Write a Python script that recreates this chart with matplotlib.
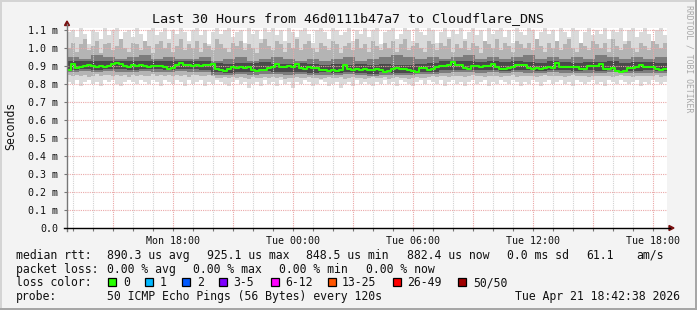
import numpy as np
import pandas as pd
import matplotlib
matplotlib.use("Agg")
import matplotlib.pyplot as plt
import matplotlib.dates as mdates
from matplotlib.patches import Rectangle, Polygon
from matplotlib.lines import Line2D
from matplotlib.ticker import FuncFormatter

# ---------------- data (values in milliseconds) ----------------
title = "Last 30 Hours from 46d0111b47a7 to Cloudflare_DNS"
start_time = "2026-04-20 12:42:38"
end_time = "2026-04-21 18:42:38"

median_rtt = [
    0.880, 0.912, 0.890, 0.893, 0.898, 0.905, 0.902, 0.896, 0.900, 0.894,
    0.899, 0.910, 0.916, 0.912, 0.900, 0.896, 0.903, 0.898, 0.904, 0.900,
    0.897, 0.902, 0.899, 0.901, 0.893, 0.886, 0.889, 0.908, 0.916, 0.905,
    0.903, 0.900, 0.905, 0.901, 0.904, 0.906, 0.912, 0.882, 0.876, 0.870,
    0.882, 0.892, 0.889, 0.895, 0.891, 0.893, 0.878, 0.872, 0.876, 0.880,
    0.890, 0.893, 0.910, 0.897, 0.893, 0.899, 0.896, 0.912, 0.890, 0.886,
    0.893, 0.889, 0.891, 0.880, 0.878, 0.874, 0.877, 0.873, 0.876, 0.904,
    0.882, 0.879, 0.882, 0.878, 0.881, 0.877, 0.880, 0.883, 0.876, 0.864,
    0.872, 0.885, 0.887, 0.883, 0.886, 0.876, 0.874, 0.866, 0.888, 0.891,
    0.880, 0.882, 0.896, 0.899, 0.902, 0.908, 0.921, 0.906, 0.903, 0.887,
    0.885, 0.898, 0.901, 0.897, 0.902, 0.899, 0.910, 0.893, 0.886, 0.884,
    0.888, 0.896, 0.906, 0.903, 0.907, 0.889, 0.885, 0.887, 0.883, 0.889,
    0.892, 0.888, 0.917, 0.896, 0.893, 0.897, 0.894, 0.896, 0.885, 0.886,
    0.898, 0.901, 0.899, 0.910, 0.886, 0.884, 0.887, 0.872, 0.869, 0.874,
    0.889, 0.891, 0.893, 0.905, 0.896, 0.894, 0.897, 0.882, 0.879, 0.884,
]

smoke_max = [
    1.09, 1.10, 1.06, 1.11, 1.08, 1.02, 1.10, 1.09, 1.05, 1.11,
    1.07, 1.10, 1.11, 1.04, 1.09, 1.10, 1.06, 1.11, 1.08, 1.03,
    1.10, 1.11, 1.07, 1.09, 1.11, 1.05, 1.10, 1.08, 1.11, 1.09,
    1.04, 1.10, 1.11, 1.07, 1.10, 1.02, 1.09, 1.11, 1.08, 1.10,
    1.11, 1.06, 1.09, 1.10, 1.03, 1.11, 1.08, 1.10, 1.05, 1.11,
    1.09, 1.11, 1.07, 1.10, 1.04, 1.11, 1.09, 1.06, 1.10, 1.11,
    1.08, 1.03, 1.10, 1.11, 1.09, 1.05, 1.11, 1.10, 1.07, 1.09,
    1.11, 1.04, 1.10, 1.08, 1.11, 1.06, 1.10, 1.11, 1.02, 1.09,
    1.10, 1.11, 1.05, 1.08, 1.11, 1.10, 1.04, 1.11, 1.09, 1.07,
    1.11, 1.10, 1.03, 1.09, 1.11, 1.06, 1.10, 1.08, 1.11, 1.05,
    1.09, 1.11, 1.07, 1.10, 1.04, 1.11, 1.08, 1.10, 1.11, 1.06,
    1.10, 1.03, 1.11, 1.09, 1.07, 1.11, 1.10, 1.05, 1.09, 1.11,
    1.08, 1.10, 1.04, 1.11, 1.09, 1.06, 1.11, 1.10, 1.03, 1.09,
    1.11, 1.07, 1.10, 1.08, 1.11, 1.05, 1.10, 1.09, 1.11, 1.04,
    1.10, 1.11, 1.06, 1.09, 1.11, 1.08, 1.03, 1.10, 1.11, 1.07,
]

smoke_min = [
    0.81, 0.80, 0.82, 0.79, 0.81, 0.82, 0.80, 0.81, 0.79, 0.82,
    0.81, 0.82, 0.80, 0.79, 0.81, 0.82, 0.81, 0.80, 0.82, 0.81,
    0.80, 0.82, 0.81, 0.79, 0.82, 0.81, 0.80, 0.82, 0.81, 0.79,
    0.82, 0.80, 0.81, 0.82, 0.79, 0.81, 0.80, 0.82, 0.81, 0.80,
    0.79, 0.81, 0.82, 0.80, 0.81, 0.78, 0.80, 0.81, 0.79, 0.82,
    0.80, 0.81, 0.79, 0.82, 0.80, 0.81, 0.78, 0.81, 0.80, 0.82,
    0.81, 0.79, 0.80, 0.82, 0.81, 0.79, 0.80, 0.81, 0.78, 0.80,
    0.81, 0.79, 0.82, 0.80, 0.81, 0.80, 0.79, 0.81, 0.80, 0.82,
    0.80, 0.81, 0.79, 0.82, 0.81, 0.80, 0.79, 0.81, 0.82, 0.80,
    0.82, 0.81, 0.80, 0.82, 0.79, 0.81, 0.82, 0.80, 0.81, 0.79,
    0.81, 0.82, 0.80, 0.81, 0.82, 0.79, 0.81, 0.80, 0.82, 0.81,
    0.80, 0.82, 0.81, 0.79, 0.81, 0.80, 0.82, 0.81, 0.79, 0.81,
    0.82, 0.80, 0.81, 0.82, 0.80, 0.81, 0.79, 0.82, 0.81, 0.80,
    0.81, 0.82, 0.80, 0.81, 0.79, 0.82, 0.81, 0.80, 0.82, 0.81,
    0.80, 0.81, 0.82, 0.79, 0.81, 0.80, 0.82, 0.81, 0.80, 0.81,
]

smoke_q90 = [
    1.00, 1.03, 0.98, 1.02, 1.05, 0.99, 1.01, 1.04, 0.97, 1.02,
    1.03, 0.99, 1.01, 1.05, 1.00, 0.98, 1.03, 1.02, 0.99, 1.04,
    1.01, 0.97, 1.02, 1.04, 1.00, 1.03, 0.98, 1.01, 1.05, 0.99,
    1.02, 1.00, 1.04, 0.98, 1.03, 1.01, 0.99, 1.05, 1.02, 1.00,
    0.98, 1.03, 1.01, 1.04, 0.99, 1.02, 1.00, 0.97, 1.03, 1.05,
    1.01, 0.99, 1.04, 1.02, 0.98, 1.03, 1.00, 1.05, 0.99, 1.02,
    1.04, 1.00, 0.98, 1.03, 1.01, 0.99, 1.04, 1.02, 0.97, 1.01,
    1.03, 0.99, 1.05, 1.00, 1.02, 0.98, 1.04, 1.01, 0.99, 1.03,
    1.00, 1.04, 0.98, 1.02, 1.05, 0.99, 1.01, 1.03, 1.00, 0.98,
    1.04, 1.02, 0.99, 1.03, 1.01, 1.05, 0.98, 1.02, 1.00, 1.04,
    0.99, 1.03, 1.01, 0.97, 1.04, 1.02, 1.00, 1.05, 0.99, 1.03,
    1.01, 0.98, 1.04, 1.02, 1.00, 1.03, 0.99, 1.05, 1.01, 0.98,
    1.03, 1.00, 1.04, 0.99, 1.02, 1.05, 1.00, 0.98, 1.03, 1.01,
    0.99, 1.04, 1.02, 1.00, 1.03, 0.98, 1.05, 1.01, 0.99, 1.02,
    1.04, 1.00, 0.98, 1.03, 1.01, 0.99, 1.04, 1.02, 1.00, 1.03,
]
smoke_q10 = [
    0.848, 0.842, 0.852, 0.845, 0.850, 0.840, 0.847, 0.853, 0.844, 0.849,
    0.851, 0.843, 0.848, 0.846, 0.852, 0.841, 0.849, 0.845, 0.850, 0.844,
    0.847, 0.853, 0.842, 0.848, 0.845, 0.851, 0.843, 0.849, 0.846, 0.852,
    0.841, 0.848, 0.850, 0.844, 0.847, 0.851, 0.845, 0.836, 0.832, 0.838,
    0.834, 0.840, 0.831, 0.837, 0.835, 0.829, 0.838, 0.833, 0.836, 0.840,
    0.832, 0.837, 0.834, 0.839, 0.830, 0.836, 0.833, 0.838, 0.831, 0.835,
    0.839, 0.832, 0.836, 0.830, 0.834, 0.838, 0.831, 0.835, 0.837, 0.829,
    0.834, 0.838, 0.832, 0.836, 0.830, 0.835, 0.839, 0.831, 0.834, 0.837,
    0.830, 0.835, 0.838, 0.832, 0.836, 0.829, 0.834, 0.837, 0.831, 0.836,
    0.840, 0.844, 0.838, 0.843, 0.846, 0.840, 0.845, 0.842, 0.847, 0.841,
    0.844, 0.848, 0.842, 0.846, 0.840, 0.845, 0.843, 0.847, 0.841, 0.846,
    0.843, 0.848, 0.841, 0.845, 0.847, 0.842, 0.846, 0.840, 0.844, 0.848,
    0.842, 0.846, 0.843, 0.847, 0.841, 0.845, 0.848, 0.842, 0.844, 0.846,
    0.840, 0.845, 0.843, 0.847, 0.842, 0.846, 0.841, 0.844, 0.848, 0.843,
    0.845, 0.841, 0.847, 0.843, 0.846, 0.842, 0.844, 0.848, 0.841, 0.845,
]

smoke_q75 = [
    0.95, 0.94, 0.96, 0.95, 0.94, 0.95, 0.96, 0.94, 0.95, 0.94,
    0.94, 0.95, 0.93, 0.94, 0.95, 0.93, 0.94, 0.95, 0.94, 0.93,
    0.94, 0.93, 0.94, 0.95, 0.93, 0.94, 0.95, 0.96, 0.95, 0.94,
    0.95, 0.94, 0.95, 0.96, 0.94, 0.95, 0.94, 0.95, 0.96, 0.94,
    0.95, 0.94, 0.95, 0.94, 0.96, 0.95, 0.94, 0.95, 0.94, 0.95,
]
smoke_q65 = [
    0.925, 0.930, 0.925, 0.930, 0.925, 0.930, 0.928, 0.925, 0.930, 0.927,
    0.925, 0.930, 0.915, 0.910, 0.918, 0.915, 0.920, 0.912, 0.910, 0.915,
    0.910, 0.905, 0.910, 0.908, 0.912, 0.905, 0.910, 0.908, 0.905, 0.910,
    0.915, 0.925, 0.930, 0.925, 0.920, 0.925, 0.920, 0.925, 0.920, 0.918,
    0.925, 0.920, 0.918, 0.922, 0.920, 0.925, 0.918, 0.920, 0.922, 0.918,
]
smoke_q35 = [
    0.880, 0.885, 0.880, 0.885, 0.882, 0.880, 0.885, 0.882, 0.880, 0.884,
    0.882, 0.880, 0.865, 0.862, 0.868, 0.865, 0.870, 0.866, 0.864, 0.868,
    0.862, 0.865, 0.860, 0.866, 0.862, 0.858, 0.864, 0.862, 0.860, 0.865,
    0.868, 0.875, 0.880, 0.878, 0.875, 0.878, 0.874, 0.878, 0.876, 0.872,
    0.878, 0.875, 0.872, 0.876, 0.874, 0.878, 0.872, 0.874, 0.876, 0.872,
]
smoke_q25 = [
    0.866, 0.870, 0.865, 0.871, 0.868, 0.865, 0.870, 0.868, 0.866, 0.870,
    0.868, 0.866, 0.852, 0.850, 0.855, 0.852, 0.857, 0.853, 0.851, 0.855,
    0.850, 0.852, 0.848, 0.853, 0.850, 0.846, 0.852, 0.850, 0.848, 0.853,
    0.855, 0.862, 0.866, 0.864, 0.862, 0.865, 0.861, 0.865, 0.863, 0.859,
    0.865, 0.862, 0.859, 0.863, 0.861, 0.865, 0.859, 0.861, 0.863, 0.859,
]

y_ticks = [0.0, 0.1, 0.2, 0.3, 0.4, 0.5, 0.6, 0.7, 0.8, 0.9, 1.0, 1.1]

stats_row1 = [("median rtt:", 16), ("890.3 us avg", 107), ("925.1 us max", 207),
              ("848.5 us min", 306), ("882.4 us now", 407), ("0.0 ms sd", 507),
              ("61.1", 586), ("am/s", 636)]
stats_row2 = [("packet loss:", 16), ("0.00 % avg", 107), ("0.00 % max", 193),
              ("0.00 % min", 279), ("0.00 % now", 366)]
loss_labels = ["0", "1", "2", "3-5", "6-12", "13-25", "26-49", "50/50"]
loss_colors = ["#26ff00", "#00b8ff", "#0059ff", "#7e00ff", "#ff00ff",
               "#ff5500", "#ff0000", "#a10000"]
loss_box_x = [108, 145, 182, 219, 271, 328, 393, 458]
loss_text_x = [123, 160, 197, 233, 285, 342, 407, 473]
probe_text = "50 ICMP Echo Pings (56 Bytes) every 120s"
stamp_text = "Tue Apr 21 18:42:38 2026"

# ---------------- figure ----------------
W, H = 697, 310
MONO = "DejaVu Sans Mono"
plt.rcParams["font.family"] = MONO
fig = plt.figure(figsize=(W / 100, H / 100), dpi=100, facecolor="#f3f3f3")


def fx(x):
    return x / W


def fy(y):
    return 1 - y / H


# plot area: x 67..667, y 28..228
ax = fig.add_axes([fx(67), fy(228), 600 / W, 200 / H])
ax.set_facecolor("white")

t0 = pd.Timestamp(start_time)
t1 = pd.Timestamp(end_time)


def edges(n):
    return mdates.date2num(pd.date_range(t0, t1, periods=n + 1).to_pydatetime())


def ext(v):
    return list(v) + [v[-1]]


xe150 = edges(len(smoke_max))
xe50 = edges(len(smoke_q75))
xem = edges(len(median_rtt))

ax.fill_between(xe150, ext(smoke_min), ext(smoke_max), step="post",
                color="#dadada", lw=0, zorder=1)
ax.fill_between(xe150, ext(smoke_q10), ext(smoke_q90), step="post",
                color="#b4b4b4", lw=0, zorder=1.1)
ax.fill_between(xe50, ext(smoke_q25), ext(smoke_q75), step="post",
                color="#7c7c7c", lw=0, zorder=1.2)
ax.fill_between(xe50, ext(smoke_q35), ext(smoke_q65), step="post",
                color="#4a4a4a", lw=0, zorder=1.3)
ax.plot(xem, ext(median_rtt), drawstyle="steps-post", color="#26ff00",
        lw=1.5, zorder=4)

ax.set_xlim(xem[0], xem[-1])
ax.set_ylim(0, 1.111)

# x axis ticks / grid
ax.xaxis.set_major_locator(mdates.HourLocator(byhour=range(0, 24, 3)))
ax.xaxis.set_minor_locator(mdates.HourLocator())


def xfmt(v, pos):
    d = mdates.num2date(v)
    return d.strftime("%a %H:%M") if d.hour % 6 == 0 else ""


ax.xaxis.set_major_formatter(FuncFormatter(xfmt))
ax.set_yticks(y_ticks)
ax.set_yticklabels([("0.0" if v == 0 else f"{v:.1f} m") for v in y_ticks])

ax.set_axisbelow(False)
ax.grid(True, which="major", axis="both", color="#eaa8a8",
        linestyle=(0, (1, 1)), lw=0.8)
ax.grid(True, which="minor", axis="x", color="#d2d2d2",
        linestyle=(0, (1, 1)), lw=0.8)

ax.tick_params(axis="both", which="both", length=2, width=0.8, color="#777777",
               labelsize=7.2, labelcolor="#111111", direction="out")
ax.tick_params(axis="y", pad=4.5)
ax.tick_params(axis="x", pad=3.5)

for s in ax.spines.values():
    s.set_visible(False)

# axis lines with arrows
fig.add_artist(Line2D([fx(67), fx(67)], [fy(231), fy(24)], color="#777777",
                      lw=1.0, transform=fig.transFigure))
fig.add_artist(Line2D([fx(64), fx(670)], [fy(228), fy(228)], color="#000000",
                      lw=1.0, transform=fig.transFigure))
fig.add_artist(Polygon([(fx(64.5), fy(25.5)), (fx(69.5), fy(25.5)), (fx(67), fy(21))],
                       closed=True, color="#7a1010", transform=fig.transFigure))
fig.add_artist(Polygon([(fx(669), fy(225.5)), (fx(669), fy(230.5)), (fx(674), fy(228))],
                       closed=True, color="#7a1010", transform=fig.transFigure))

# texts
fig.text(fx(348), fy(19), title, ha="center", va="center", fontsize=9.6,
         color="#111111")
fig.text(fx(11), fy(126), "Seconds", rotation=90, ha="center", va="center",
         fontsize=8.3, color="#111111")
fig.text(fx(688.5), fy(59), "RRDTOOL / TOBI OETIKER", rotation=270,
         ha="center", va="center", fontsize=5.9, color="#a8a8a8")

LEG = 8.3
for txt, x in stats_row1:
    fig.text(fx(x), fy(259), txt, ha="left", va="baseline", fontsize=LEG, color="#111111")
for txt, x in stats_row2:
    fig.text(fx(x), fy(273), txt, ha="left", va="baseline", fontsize=LEG, color="#111111")
fig.text(fx(16), fy(286.5), "loss color:", ha="left", va="baseline", fontsize=LEG,
         color="#111111")
for lab, col, bx, tx in zip(loss_labels, loss_colors, loss_box_x, loss_text_x):
    fig.add_artist(Rectangle((fx(bx), fy(286)), 8 / W, 8 / H, facecolor=col,
                             edgecolor="black", lw=0.9, transform=fig.transFigure))
    fig.text(fx(tx), fy(286.5), lab, ha="left", va="baseline", fontsize=LEG,
             color="#111111")
fig.text(fx(16), fy(300), "probe:", ha="left", va="baseline", fontsize=LEG,
         color="#111111")
fig.text(fx(107), fy(300), probe_text, ha="left", va="baseline", fontsize=LEG,
         color="#111111")
fig.text(fx(680), fy(300), stamp_text, ha="right", va="baseline", fontsize=LEG,
         color="#111111")

# frame
fig.add_artist(Rectangle((0, 0), 1, 2 / H, facecolor="#a6a6a6", lw=0,
                         transform=fig.transFigure))
fig.add_artist(Rectangle((1 - 2 / W, 0), 2 / W, 1, facecolor="#a6a6a6", lw=0,
                         transform=fig.transFigure))
fig.add_artist(Rectangle((0, 1 - 2 / H), 1 - 2 / W, 2 / H, facecolor="#d4d4d4", lw=0,
                         transform=fig.transFigure))
fig.add_artist(Rectangle((0, 2 / H), 2 / W, 1 - 4 / H, facecolor="#d4d4d4", lw=0,
                         transform=fig.transFigure))

fig.savefig("out.png", dpi=100, facecolor=fig.get_facecolor())
